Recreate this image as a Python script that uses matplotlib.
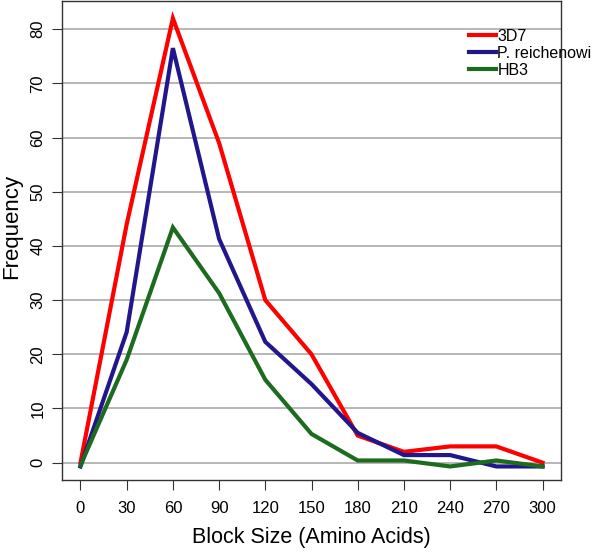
import matplotlib
matplotlib.use("Agg")
import matplotlib.pyplot as plt

plt.rcParams['font.family'] = ['Liberation Sans', 'DejaVu Sans']

block_sizes = [0, 30, 60, 90, 120, 150, 180, 210, 240, 270, 300]
freq_3d7 = [0, 44, 82, 59, 30, 20, 5, 2, 3, 3, 0]
freq_preich = [-0.7, 24.1, 76.5, 41.3, 22.3, 14.5, 5.5, 1.4, 1.4, -0.7, -0.7]
freq_hb3 = [-0.5, 19, 43.4, 31.3, 15.3, 5.3, 0.4, 0.4, -0.7, 0.4, -0.7]
series_names = ['3D7', 'P. reichenowi', 'HB3']
colors = ['#ff0000', '#22168c', '#1c6b1e']
yticks = list(range(0, 90, 10))

fig = plt.figure(figsize=(6.0, 5.52), dpi=100)
ax = fig.add_axes([62/600, 1-480/552, (561-62)/600, (480-1)/552])

for yv in yticks:
    ax.axhline(yv, color='#aaaaaa', lw=1.2, zorder=0)

for vals, name, c in zip([freq_3d7, freq_preich, freq_hb3], series_names, colors):
    ax.plot(block_sizes, vals, color=c, lw=3.0, label=name, solid_joinstyle='miter', zorder=2)

ax.set_xlim(-12, 312)
ax.set_ylim(-3.2, 85.2)
ax.set_xticks(block_sizes)
ax.set_yticks(yticks)
ax.tick_params(axis='both', direction='out', length=7, width=0.8, color='#333333', labelsize=12)
ax.tick_params(axis='x', pad=8)
ax.tick_params(axis='y', pad=5)
for lab in ax.get_yticklabels():
    lab.set_rotation(90)
    lab.set_va('center')
for s in ax.spines.values():
    s.set_color('#333333')
    s.set_linewidth(1.0)

ax.set_xlabel('Block Size (Amino Acids)', fontsize=15.5, labelpad=8)
ax.set_ylabel('Frequency', fontsize=16)
ax.yaxis.set_label_coords(12/600, (552-226)/552, transform=fig.transFigure)
ax.yaxis.label.set_va('center')

leg = ax.legend(loc='upper left', bbox_to_anchor=(469/600, 1-29/552), bbox_transform=fig.transFigure,
                frameon=False, fontsize=11.5, handlelength=1.7, handletextpad=0.08,
                labelspacing=0.12, borderpad=0, borderaxespad=0)
for line in leg.get_lines():
    line.set_linewidth(3.0)

fig.savefig('out.png', dpi=100)
